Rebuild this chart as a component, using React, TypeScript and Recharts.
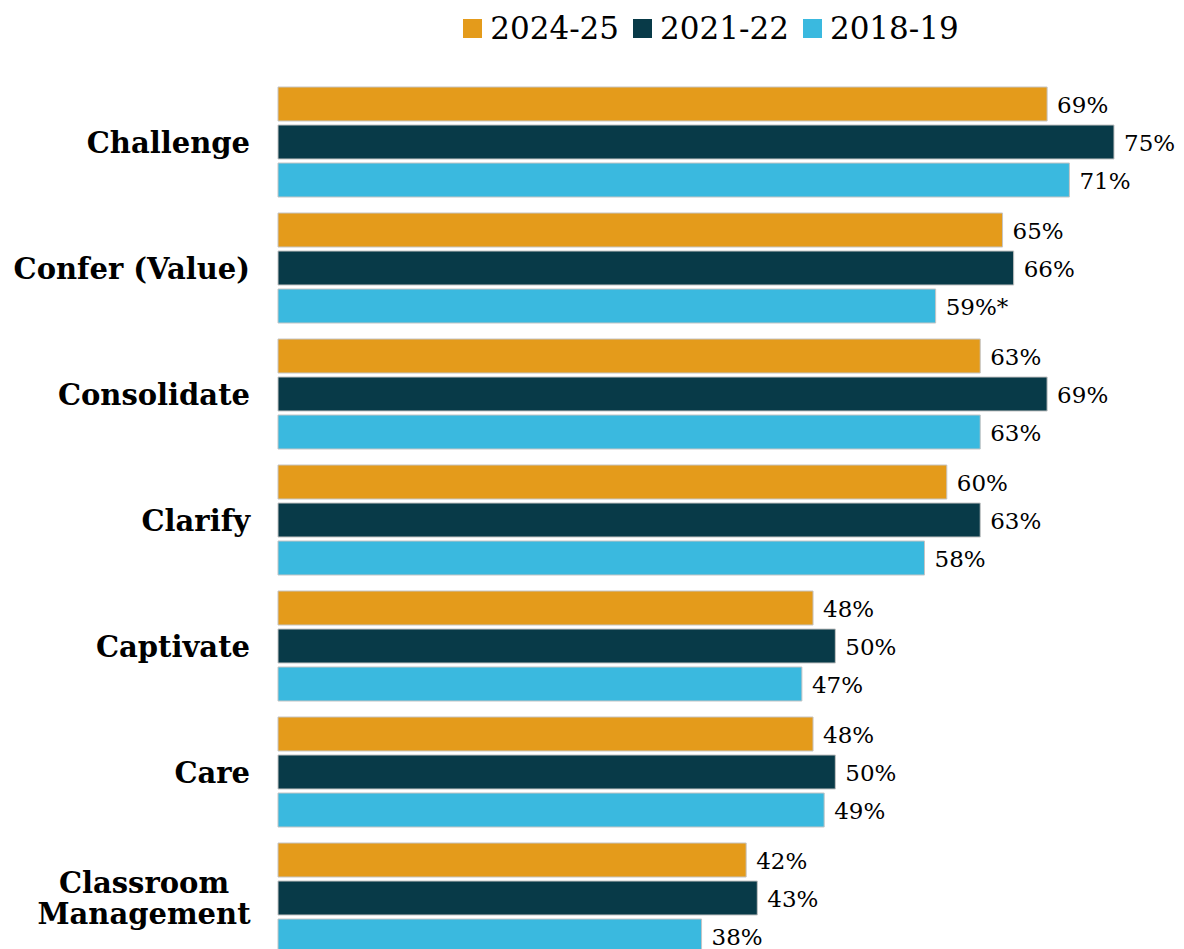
import { BarChart, Bar, XAxis, YAxis, Legend, LabelList } from "recharts";

const categories = [
  "Challenge",
  "Confer (Value)",
  "Consolidate",
  "Clarify",
  "Captivate",
  "Care",
  "Classroom\nManagement",
];
const y2024 = [69, 65, 63, 60, 48, 48, 42];
const y2021 = [75, 66, 69, 63, 50, 50, 43];
const y2018 = [71, 59, 63, 58, 47, 49, 38];
const notes2018 = ["", "*", "", "", "", "", ""];

const series = [
  { key: "y2024", name: "2024-25", color: "#E49B1B" },
  { key: "y2021", name: "2021-22", color: "#083A48" },
  { key: "y2018", name: "2018-19", color: "#3AB9DF" },
];

const data = categories.map((name, i) => ({
  name,
  y2024: y2024[i],
  y2021: y2021[i],
  y2018: y2018[i],
  l2024: y2024[i] + "%",
  l2021: y2021[i] + "%",
  l2018: y2018[i] + "%" + notes2018[i],
}));

const FONT = "'DejaVu Serif', Georgia, serif";

const CatTick = ({ x, y, payload }: any) => {
  const lines = String(payload.value).split("\n");
  if (lines.length === 1) {
    return (
      <text x={x} y={y} dy={11} textAnchor="end" fontFamily={FONT} fontWeight="bold" fontSize={29} fill="#000">
        {lines[0]}
      </text>
    );
  }
  // two-line label: lines centred on each other, widest line ending at the tick edge
  return (
    <text x={x - 106} y={y} textAnchor="middle" fontFamily={FONT} fontWeight="bold" fontSize={29} fill="#000">
      {lines.map((l, i) => (
        <tspan key={i} x={x - 106} dy={i === 0 ? -5 : 31}>
          {l}
        </tspan>
      ))}
    </text>
  );
};

const LegendContent = () => (
  <div style={{ display: "flex", justifyContent: "center", alignItems: "center", fontFamily: FONT, fontSize: 31, color: "#000" }}>
    {series.map((s) => (
      <div key={s.key} style={{ display: "flex", alignItems: "center", marginRight: 14 }}>
        <span style={{ display: "inline-block", width: 19, height: 19, background: s.color, marginRight: 8 }} />
        <span>{s.name}</span>
      </div>
    ))}
  </div>
);

export default function App() {
  return (
    <div style={{ position: "absolute", top: 0, left: 0, width: 1184, height: 949, overflow: "hidden", background: "#fff" }}>
      <BarChart
        width={1184}
        height={961}
        data={data}
        layout="vertical"
        margin={{ top: 43, right: 70, bottom: 0, left: 0 }}
        barGap={4}
        barCategoryGap={8}
      >
        <XAxis type="number" domain={[0, 75]} hide />
        <YAxis
          type="category"
          dataKey="name"
          width={278}
          axisLine={false}
          tickLine={false}
          tickSize={6}
          tickMargin={22}
          interval={0}
          tick={<CatTick />}
        />
        <Legend
          verticalAlign="top"
          content={<LegendContent />}
          wrapperStyle={{ top: 10, left: 248, width: 940 }}
        />
        {series.map((s) => (
          <Bar
            key={s.key}
            dataKey={s.key}
            name={s.name}
            fill={s.color}
            stroke="#c4c4c4"
            strokeWidth={1}
            barSize={34}
            isAnimationActive={false}
          >
            <LabelList
              dataKey={"l" + s.key.slice(1)}
              position="right"
              offset={10}
              dy={1}
              fill="#000"
              fontFamily={FONT}
              fontSize={23}
            />
          </Bar>
        ))}
      </BarChart>
    </div>
  );
}
